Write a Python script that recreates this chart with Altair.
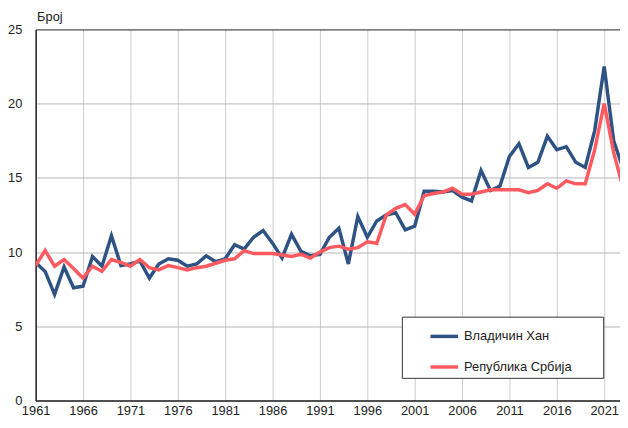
import altair as alt
import pandas as pd

years = list(range(1961, 2024))

vladicin_han = [
    9.3, 8.7, 7.15, 9.0, 7.6, 7.7, 9.7, 9.05, 11.1, 9.1,
    9.2, 9.4, 8.25, 9.2, 9.55, 9.45, 9.05, 9.2, 9.75, 9.35,
    9.55, 10.5, 10.2, 11.0, 11.45, 10.6, 9.6, 11.2, 10.05, 9.75,
    9.85, 11.0, 11.6, 9.2, 12.4, 11.0, 12.1, 12.5, 12.65, 11.5,
    11.75, 14.1, 14.1, 14.05, 14.15, 13.7, 13.45, 15.5, 14.15, 14.45,
    16.45, 17.3, 15.7, 16.05, 17.8, 16.9, 17.1, 16.05, 15.7, 18.2,
    22.5, 17.5, 15.6,
]

srbija = [
    9.1, 10.1, 9.05, 9.5, 8.9, 8.25, 9.05, 8.7, 9.5, 9.3,
    9.05, 9.5, 8.95, 8.8, 9.1, 8.95, 8.8, 8.95, 9.05, 9.25,
    9.45, 9.55, 10.1, 9.9, 9.9, 9.9, 9.8, 9.7, 9.85, 9.6,
    10.0, 10.3, 10.4, 10.2, 10.3, 10.7, 10.6, 12.5, 12.95, 13.2,
    12.55, 13.8, 13.95, 14.05, 14.3, 13.9, 13.9, 14.05, 14.2, 14.2,
    14.2, 14.2, 14.0, 14.15, 14.6, 14.3, 14.8, 14.6, 14.6, 16.9,
    20.0, 16.7, 14.3,
]

series_names = ["Владичин Хан", "Република Србија"]
series_colors = ["#2E5283", "#FF5A5F"]
x_ticks = list(range(1961, 2022, 5))
y_ticks = [0, 5, 10, 15, 20, 25]

df = pd.DataFrame({
    "year": years + years,
    "value": vladicin_han + srbija,
    "series": [series_names[0]] * len(years) + [series_names[1]] * len(years),
})

FONT = "Liberation Sans"
TXT = "#222222"
PLOT_W = 592
X_MAX = 1961 + PLOT_W / 9.6

chart = (
    alt.Chart(df)
    .mark_line(strokeWidth=3.5, clip=True)
    .encode(
        x=alt.X(
            "year:Q",
            scale=alt.Scale(domain=[1961, X_MAX], nice=False, zero=False),
            axis=alt.Axis(
                values=x_ticks, format="d", title=None, tickSize=0, labelPadding=4,
                domainColor=TXT, domainWidth=1.5, gridColor="#cccccc", gridWidth=1,
                labelFontSize=13, labelColor=TXT, labelFont=FONT, labelFlush=False,
            ),
        ),
        y=alt.Y(
            "value:Q",
            scale=alt.Scale(domain=[0, 25], nice=False),
            axis=alt.Axis(
                values=y_ticks, title="Број", titleAngle=0, titleAlign="left",
                titleBaseline="alphabetic", titleX=1, titleY=-9,
                titleFontWeight="normal", titleFontSize=13, titleFont=FONT, titleColor=TXT,
                tickSize=0, labelPadding=14, labelFontSize=13, labelColor=TXT, labelFont=FONT,
                domainColor=TXT, domainWidth=1.5,
                gridColor=alt.condition("datum.value == 25", alt.value(TXT), alt.value("#b5b5b5")),
                gridWidth=1,
            ),
        ),
        color=alt.Color(
            "series:N",
            scale=alt.Scale(domain=series_names, range=series_colors),
            legend=alt.Legend(
                title=".", titleOrient="right", titleFontSize=13, titleColor="white",
                titlePadding=24,
                orient="none", legendX=371, legendY=291,
                symbolType="stroke", symbolSize=784, symbolStrokeWidth=3.5,
                padding=4, symbolOffset=23, labelOffset=4, rowPadding=8,
                strokeColor="#333333", fillColor="white",
                labelFontSize=13, labelFont=FONT, labelColor=TXT, labelLimit=400,
            ),
        ),
    )
    .properties(
        width=PLOT_W,
        height=376,
        autosize=alt.AutoSizeParams(type="none"),
        padding={"left": 28, "top": 19, "right": 0, "bottom": 17},
    )
    .configure_view(stroke=None)
)

chart.save("out.html", embed_options={"renderer": "svg", "actions": False})
